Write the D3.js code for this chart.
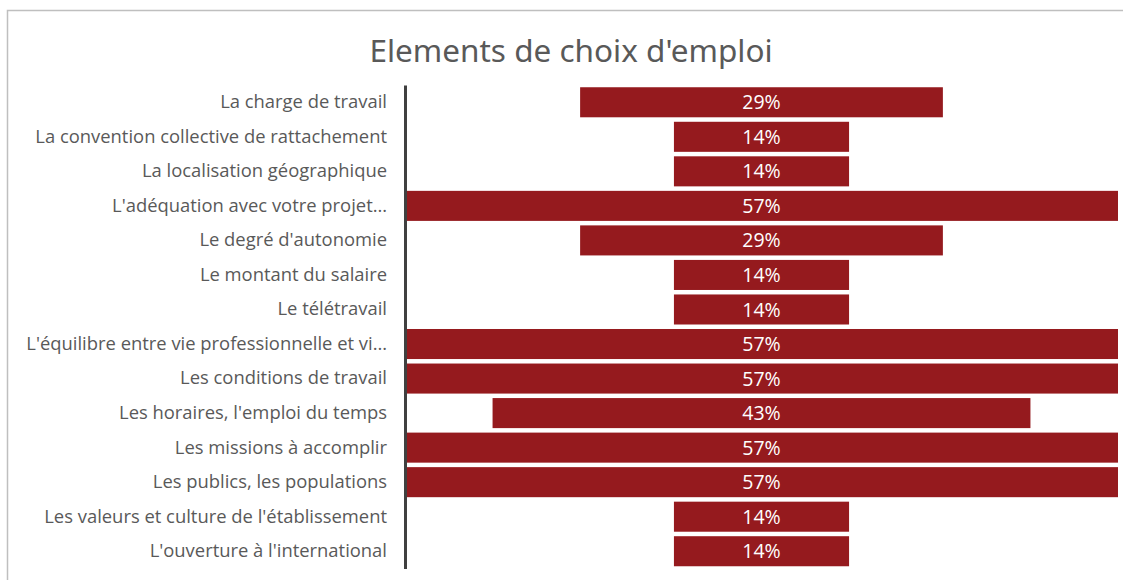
<!DOCTYPE html>
<html>
<head>
<meta charset="utf-8">
<script src="https://cdn.jsdelivr.net/npm/d3@7"></script>
<style>
  html, body { margin: 0; padding: 0; background: #ffffff; }
  svg { display: block; }
</style>
</head>
<body>
<svg id="chart" width="1123" height="580"></svg>
<script>
const categories = [
  "La charge de travail",
  "La convention collective de rattachement",
  "La localisation géographique",
  "L'adéquation avec votre projet…",
  "Le degré d'autonomie",
  "Le montant du salaire",
  "Le télétravail",
  "L'équilibre entre vie professionnelle et vi…",
  "Les conditions de travail",
  "Les horaires, l'emploi du temps",
  "Les missions à accomplir",
  "Les publics, les populations",
  "Les valeurs et culture de l'établissement",
  "L'ouverture à l'international"
];
const values = [29, 14, 14, 57, 29, 14, 14, 57, 57, 43, 57, 57, 14, 14];
const titleText = "Elements de choix d'emploi";

const svg = d3.select("#chart");
const W = 1123, H = 580;

// chart frame
svg.append("rect")
  .attr("x", 7.5).attr("y", 10.5)
  .attr("width", W + 20).attr("height", H + 20)
  .attr("fill", "#fff").attr("stroke", "#bfbfbf").attr("stroke-width", 1.5);

const plot = { left: 405, right: 1118, top: 85, bottom: 568.5 };
const cx = (plot.left + plot.right) / 2;

const x = d3.scaleLinear().domain([0, d3.max(values)]).range([0, plot.right - plot.left]);
const y = d3.scaleBand().domain(categories).range([plot.top, plot.bottom]).paddingInner(0.13).paddingOuter(0.065);

const data = categories.map((c, i) => ({ c, v: values[i] }));

svg.append("text")
  .attr("x", 571).attr("y", 62)
  .attr("text-anchor", "middle")
  .attr("font-family", "'Noto Sans', sans-serif")
  .attr("font-size", 31.5)
  .attr("fill", "#595959")
  .text(titleText);

svg.append("g").selectAll("rect").data(data).join("rect")
  .attr("x", d => cx - x(d.v) / 2)
  .attr("y", d => y(d.c))
  .attr("width", d => x(d.v))
  .attr("height", y.bandwidth())
  .attr("fill", "#951A1E");

svg.append("g").selectAll("text").data(data).join("text")
  .attr("x", cx)
  .attr("y", d => y(d.c) + y.bandwidth() / 2)
  .attr("dy", "0.36em")
  .attr("text-anchor", "middle")
  .attr("font-family", "'Open Sans', sans-serif")
  .attr("font-size", 19.5)
  .attr("fill", "#ffffff")
  .text(d => d.v + "%");

// category axis
const axis = d3.axisLeft(y).tickSize(0).tickPadding(18);
const ag = svg.append("g").attr("transform", `translate(${plot.left},0)`).call(axis);
ag.select(".domain").attr("stroke", "#404040").attr("stroke-width", 3);
ag.selectAll("text")
  .attr("font-family", "'Open Sans', sans-serif")
  .attr("font-size", 18.4)
  .attr("fill", "#595959");
</script>
</body>
</html>
